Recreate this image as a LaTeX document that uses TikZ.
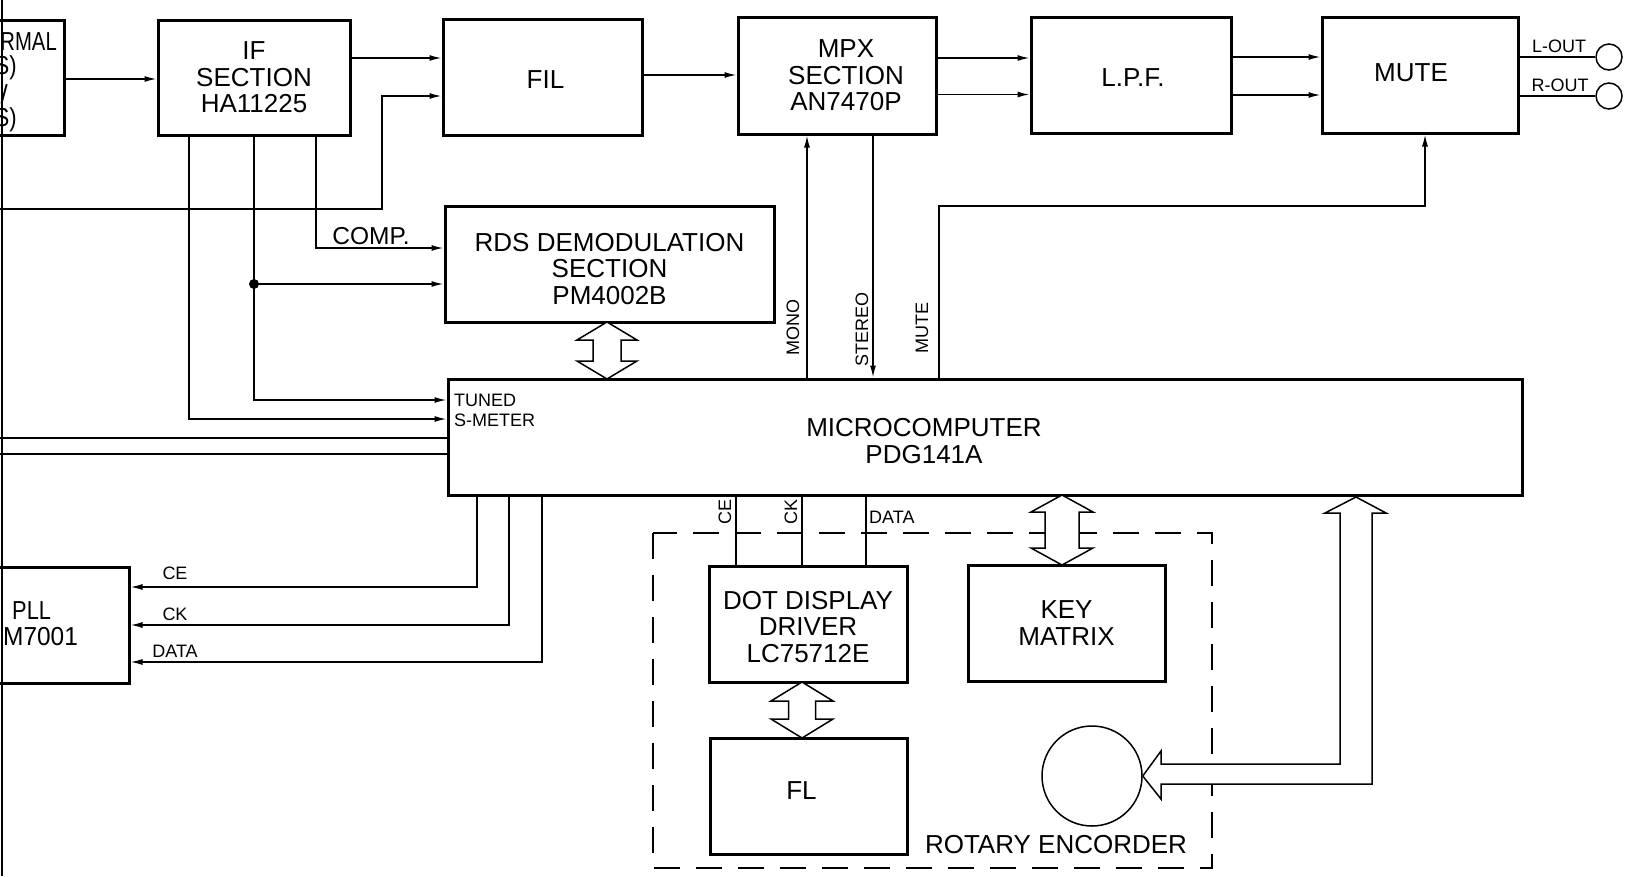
\documentclass[tikz,border=0pt]{standalone}
\usepackage{fontspec}
\setmainfont{Liberation Sans}
\usetikzlibrary{arrows.meta,calc}
\newcommand\fbig{\fontsize{26}{26.5}\selectfont}
\newcommand\fsmall{\fontsize{18}{19}\selectfont}
\newcommand\fmid{\fontsize{24.5}{25}\selectfont}
% vertical hollow double arrow: x, ytop, ybot, shaft half, head half, head length
\newcommand\hollowdbl[6]{%
  \draw[hol] (#1,#2) -- (#1+#5,#2+#6) -- (#1+#4,#2+#6) -- (#1+#4,#3-#6) -- (#1+#5,#3-#6)
    -- (#1,#3) -- (#1-#5,#3-#6) -- (#1-#4,#3-#6) -- (#1-#4,#2+#6) -- (#1-#5,#2+#6) -- cycle;}
\begin{document}
\begin{tikzpicture}[x=1pt,y=-1pt,
  box/.style={draw, line width=3pt, rectangle, inner sep=0pt, align=center, font=\fbig},
  wire/.style={line width=1.5pt},
  arr/.style={wire, -{Latex[length=12pt,width=6pt]}},
  lbl/.style={font=\fsmall, inner sep=0pt},
  big/.style={font=\fbig, inner sep=0pt, align=center},
  hol/.style={draw, line width=1.5pt, fill=white, line join=miter},
  jack/.style={circle, draw, line width=1.5pt, minimum size=26pt, inner sep=0pt},
  jdot/.style={circle, fill, minimum size=10pt, inner sep=0pt},
  grp/.style={line width=2.8pt, dash pattern=on 26pt off 16pt}]
\fill[white] (0,0) rectangle (1630,876);
\useasboundingbox (0,0) rectangle (1630,876);
\clip (0,0) rectangle (1630,876);

% group outline
\draw[grp] (653,533) rectangle (1212,868);

% left border line
\draw[wire] (2,0) -- (2,876);

% boxes
\node[box, minimum width=100pt, minimum height=115pt] (ext) at (14,77.5) {};
\node[box, minimum width=192pt, minimum height=115pt] (if) at (254,77.5) {IF\\SECTION\\HA11225};
\node[box, minimum width=199pt, minimum height=116pt,
      label={[big,xshift=3pt,yshift=-3pt]center:FIL}] (fil) at (542.5,77) {};
\node[box, minimum width=198pt, minimum height=117pt,
      label={[big,xshift=9pt]center:MPX\\SECTION\\AN7470P}] (mpx) at (837,75.5) {};
\node[box, minimum width=200pt, minimum height=116pt,
      label={[big,xshift=2pt,yshift=-3pt]center:L.P.F.}] (lpf) at (1131,75) {};
\node[box, minimum width=196pt, minimum height=116pt,
      label={[big,xshift=-9pt,yshift=2pt]center:MUTE}] (mute) at (1420,75) {};
\node[box, minimum width=329pt, minimum height=116pt,
      label={[big,yshift=-5pt]center:RDS DEMODULATION\\SECTION\\PM4002B}] (rds) at (609.5,264) {};
\node[box, minimum width=1074pt, minimum height=116pt,
      label={[big,xshift=-61pt,yshift=-4pt]center:MICROCOMPUTER\\PDG141A}] (mc) at (985,437) {};
\node[box, minimum width=149pt, minimum height=116pt] (pll) at (54.5,625) {};
\node[box, minimum width=198pt, minimum height=116pt,
      label={[big,yshift=-3pt]center:DOT DISPLAY\\DRIVER\\LC75712E}] (dot) at (808,624) {};
\node[box, minimum width=197pt, minimum height=116pt] (key) at (1066.5,623) {KEY\\MATRIX};
\node[box, minimum width=197pt, minimum height=116pt,
      label={[big,xshift=-7pt,yshift=5pt]center:FL}] (fl) at (808.5,796) {};
\node[circle, draw, line width=1.5pt, minimum size=100pt, inner sep=0pt] (enc) at (1092,776) {};
\node[jack] (lout) at (1609,57) {};
\node[jack] (rout) at (1609,96) {};

% partial texts at the left edge
\node[big, anchor=east] at (57,42) {\scalebox{0.78}[1]{RMAL}};
\node[big, anchor=east] at (17,68) {\scalebox{0.85}[1]{S)}};
\node[big, anchor=east] at (8,94) {/};
\node[big, anchor=east] at (17,120) {\scalebox{0.85}[1]{S)}};
\node[big, anchor=west] at (12,611) {\scalebox{0.84}[1]{PLL}};
\node[big, anchor=west] at (3,637) {\scalebox{0.94}[1]{M7001}};

% top signal chain
\draw[arr] (ext.east |- 0,79) -- (if.west |- 0,79);
\draw[arr] (if.east |- 0,58) -- (fil.west |- 0,58);
\coordinate (lin) at (0,209);
\draw[arr] (lin) -- (382,209) -- (382,96) -- (fil.west |- 0,96);
\draw[arr] (fil.east |- 0,75) -- (mpx.west |- 0,75);
\draw[arr] (mpx.east |- 0,58) -- (lpf.west |- 0,58);
\draw[arr] (mpx.east |- 0,94.5) -- (lpf.west |- 0,94.5);
\draw[arr] (lpf.east |- 0,57) -- (mute.west |- 0,57);
\draw[arr] (lpf.east |- 0,95) -- (mute.west |- 0,95);
\draw[wire] (mute.east |- lout) -- (lout.west);
\draw[wire] (mute.east |- rout) -- (rout.west);
\node[lbl] at (1559,46) {L-OUT};
\node[lbl] at (1560,85) {R-OUT};

% IF section outputs
\draw[arr] (if.south -| 189,0) -- (189,419) -- (mc.west |- 0,419);
\draw[arr] (if.south -| 254,0) -- (254,400) -- (mc.west |- 0,400);
\node[jdot] (j) at (254,284) {};
\draw[arr] (j.center) -- (rds.west |- j);
\draw[arr] (if.south -| 316,0) -- (316,248) -- (rds.west |- 0,248);
\node[font=\fmid, inner sep=0pt] (comp) at (371,236) {COMP.};
\node[lbl, anchor=west] at (454,400) {TUNED};
\node[lbl, anchor=west] at (454,420) {S-METER};

% other inputs to microcomputer
\coordinate (l1) at (0,438);
\coordinate (l2) at (0,454);
\draw[wire] (l1) -- (mc.west |- l1);
\draw[wire] (l2) -- (mc.west |- l2);

% MPX / MUTE control
\draw[arr] (mc.north -| 807,0) -- (mpx.south -| 807,0);
\draw[arr] (mpx.south -| 873,0) -- (mc.north -| 873,0);
\draw[arr] (mc.north -| 939,0) -- (939,206) -- (1425,206) -- (mute.south -| 1425,0);
\node[lbl, rotate=90] at (793,327) {MONO};
\node[lbl, rotate=90] at (862,329) {STEREO};
\node[lbl, rotate=90] at (922,328) {MUTE};

% microcomputer to PLL
\draw[arr] (mc.south -| 477,0) -- (477,587) -- (pll.east |- 0,587);
\draw[arr] (mc.south -| 509,0) -- (509,625) -- (pll.east |- 0,625);
\draw[arr] (mc.south -| 542,0) -- (542,662) -- (pll.east |- 0,662);
\node[lbl] at (175,573) {CE};
\node[lbl] at (175,614) {CK};
\node[lbl] at (175,651) {DATA};

% microcomputer to dot display driver
\draw[wire] (mc.south -| 736,0) -- (dot.north -| 736,0);
\draw[wire] (mc.south -| 802,0) -- (dot.north -| 802,0);
\draw[wire] (mc.south -| 866,0) -- (dot.north -| 866,0);
\node[lbl, rotate=90] at (725,512) {CE};
\node[lbl, rotate=90] at (791,512) {CK};
\node[lbl, anchor=west] at (869,517) {DATA};

% hollow bus arrows
\hollowdbl{607}{322}{379}{14}{30}{18}
\hollowdbl{1062}{495}{565}{17}{31}{17}
\hollowdbl{802}{682}{738}{13.5}{31}{19}

% rotary encoder to microcomputer
\draw[hol] (1356,497) -- (1386,513) -- (1372,513) -- (1372,784) -- (1161,784) -- (1161,799)
  -- (enc.east) -- (1161,751) -- (1161,764) -- (1340,764) -- (1340,513) -- (1325,513) -- cycle;

\node[big] at (1056,845) {ROTARY ENCORDER};
\end{tikzpicture}
\end{document}
